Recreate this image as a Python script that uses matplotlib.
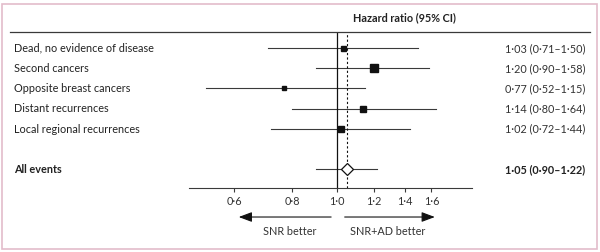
import numpy as np
import matplotlib.pyplot as plt
from matplotlib.lines import Line2D
from matplotlib.patches import Rectangle

plt.rcParams['font.family'] = ['Lato', 'DejaVu Sans']

outcomes = ['Dead, no evidence of disease', 'Second cancers', 'Opposite breast cancers',
            'Distant recurrences', 'Local regional recurrences']
hr = [1.03, 1.20, 0.77, 1.14, 1.02]
lo = [0.71, 0.90, 0.52, 0.80, 0.72]
hi = [1.50, 1.58, 1.15, 1.64, 1.44]
box_sizes = [3.6, 6.0, 3.0, 4.0, 4.6]

total_label = 'All events'
total_hr, total_lo, total_hi = 1.05, 0.90, 1.22

xticks = [0.6, 0.8, 1.0, 1.2, 1.4, 1.6]

W, H = 600, 252
FS = 7.8
fig = plt.figure(figsize=(6, 2.52), dpi=100)

def fx(px):
    return px / W

def fy(py):
    return 1 - py / H

# pink frame
fig.patches.append(Rectangle((fx(2), fy(249)), fx(595), (247 - 2) / H, transform=fig.transFigure,
                             fill=False, edgecolor='#e3bccb', linewidth=1.2))

ax = fig.add_axes([fx(189), fy(188), fx(472 - 189), (188 - 32) / H])
ax.set_xscale('log')
ax.set_xlim(0.479, 1.958)
ax.set_ylim(6.93, -0.79)

lc = '#3a3a3a'
rows = np.arange(len(outcomes))
for i, y in enumerate(rows):
    ax.plot([lo[i], hi[i]], [y, y], color=lc, lw=0.8)
    ax.plot(hr[i], y, marker='s', color='#111111', markersize=box_sizes[i], zorder=3)

ty = 6
ax.plot([total_lo, total_hi], [ty, ty], color=lc, lw=0.8)
ax.plot(total_hr, ty, marker='D', markersize=6.5, markerfacecolor='white',
        markeredgecolor='#111111', markeredgewidth=0.9, zorder=3)

ax.axvline(1.0, color='#111111', lw=0.9)
ax.axvline(total_hr, color='#111111', lw=0.8, ls=(0, (2, 2)))

for s in ['top', 'right', 'left']:
    ax.spines[s].set_visible(False)
ax.spines['bottom'].set_color(lc)
ax.spines['bottom'].set_linewidth(0.8)
ax.set_yticks([])
ax.set_xticks(xticks)
ax.set_xticklabels([f'{t:.1f}'.replace('.', '·') for t in xticks])
ax.minorticks_off()
ax.tick_params(axis='x', length=3, width=0.8, color=lc, labelsize=FS,
               labelcolor='#333333', pad=3)
ax.patch.set_visible(False)

# direction arrows
tr = ax.get_xaxis_transform()
ax.annotate('', xy=(0.605, -0.186), xytext=(0.985, -0.186), xycoords=tr, textcoords=tr,
            arrowprops=dict(arrowstyle='-|>,head_length=0.8,head_width=0.3', color='#111111', lw=0.8),
            annotation_clip=False)
ax.annotate('', xy=(1.65, -0.186), xytext=(1.025, -0.186), xycoords=tr, textcoords=tr,
            arrowprops=dict(arrowstyle='-|>,head_length=0.8,head_width=0.3', color='#111111', lw=0.8),
            annotation_clip=False)
ax.text(0.79, -0.282, 'SNR better', transform=tr, ha='center', va='center', fontsize=FS, color='#333333')
ax.text(1.29, -0.282, 'SNR+AD better', transform=tr, ha='center', va='center', fontsize=FS, color='#333333')

# header
fig.add_artist(Line2D([fx(10), fx(590)], [fy(31.7), fy(31.7)], color=lc, lw=0.9))
fig.text(fx(404), fy(18), 'Hazard ratio (95% CI)', ha='center', va='center',
         fontsize=FS, fontweight='bold', color='#222222')

def row_px(y):
    return 48.3 + y * 20.2

def fmt(v):
    return f'{v:.2f}'.replace('.', '·')

for i, name in enumerate(outcomes):
    yy = fy(row_px(rows[i]))
    fig.text(fx(14), yy, name, ha='left', va='center', fontsize=FS, color='#222222')
    fig.text(fx(505), yy, f'{fmt(hr[i])} ({fmt(lo[i])}–{fmt(hi[i])})', ha='left', va='center',
             fontsize=FS, color='#333333')

yy = fy(row_px(ty))
fig.text(fx(14), yy, total_label, ha='left', va='center', fontsize=FS, fontweight='bold', color='#222222')
fig.text(fx(505), yy, f'{fmt(total_hr)} ({fmt(total_lo)}–{fmt(total_hi)})', ha='left', va='center',
         fontsize=FS, fontweight='bold', color='#222222')

plt.savefig('out.png', dpi=100)
